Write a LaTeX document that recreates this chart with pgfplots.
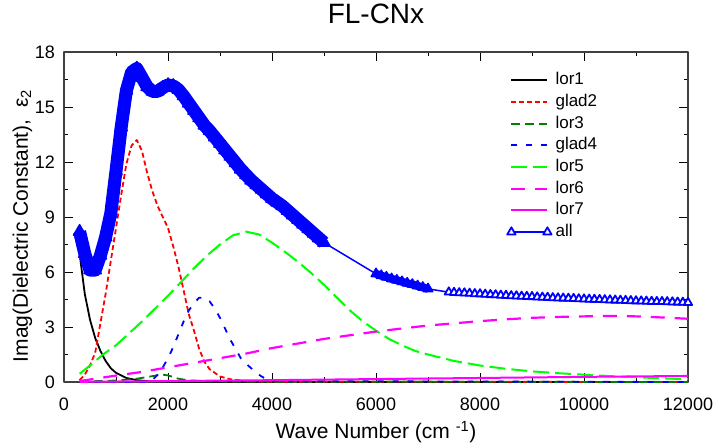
\documentclass[border=0pt]{standalone}
\usepackage{fontspec}
\setmainfont{Liberation Sans}
\usepackage{pgfplots}
\usepackage{pgfplotstable}
\pgfplotsset{compat=1.18}
\definecolor{darkgreen}{RGB}{0,128,0}
\definecolor{mag}{RGB}{255,0,255}
\definecolor{lgreen}{RGB}{0,255,0}
\definecolor{pblue}{RGB}{0,0,255}
\definecolor{pred}{RGB}{255,0,0}

% component curves
\pgfplotstableread{
x y
300 7.0
400 4.8
500 3.4
600 2.4
700 1.7
800 1.15
900 0.75
1000 0.5
1200 0.22
1400 0.1
1600 0.05
2000 0.02
3000 0.01
12000 0.0
}\lorone
\pgfplotstableread{
x y
300 0.1
400 0.4
500 0.9
600 1.6
700 3.2
800 4.8
900 6.6
1000 8.4
1100 10.2
1200 11.9
1300 12.9
1400 13.2
1500 12.6
1600 11.4
1700 10.4
1800 9.6
1900 9.0
2000 8.4
2100 7.4
2200 6.3
2300 5.0
2400 3.7
2500 2.8
2600 1.8
2700 1.1
2800 0.7
3000 0.3
3200 0.15
3500 0.05
4000 0.02
12000 0.0
}\gladtwo
\pgfplotstableread{
x y
300 0.02
1000 0.08
1400 0.18
1600 0.27
1800 0.37
1900 0.4
2000 0.36
2100 0.27
2200 0.18
2400 0.09
2800 0.04
4000 0.02
12000 0.0
}\lorthree
\pgfplotstableread{
x y
300 0.0
1600 0.0
1700 0.1
1800 0.4
1900 0.8
2000 1.3
2100 1.9
2200 2.6
2300 3.3
2400 3.9
2500 4.3
2600 4.6
2700 4.6
2800 4.4
2900 4.0
3000 3.5
3100 2.9
3200 2.3
3300 1.8
3400 1.3
3500 1.0
3600 0.75
3700 0.5
3800 0.3
3900 0.15
4000 0.05
12000 0.0
}\gladfour
\pgfplotstableread{
x y
300 0.45
500 0.9
750 1.5
1000 2.0
1250 2.65
1500 3.3
1750 4.0
2000 4.7
2250 5.45
2500 6.2
2750 6.9
3000 7.5
3250 8.0
3500 8.2
3750 8.05
4000 7.6
4250 7.1
4500 6.55
4750 5.95
5000 5.3
5250 4.6
5500 3.9
5750 3.3
6000 2.8
6250 2.35
6500 2.0
6750 1.7
7000 1.5
7500 1.15
8000 0.9
8500 0.72
9000 0.58
9500 0.48
10000 0.4
10500 0.32
11000 0.26
11500 0.2
12000 0.15
}\lorfive
\pgfplotstableread{
x y
300 0.05
1000 0.35
1500 0.55
2000 0.8
2500 1.05
3000 1.3
3500 1.55
4000 1.85
4500 2.1
5000 2.35
5500 2.55
6000 2.75
6500 2.92
7000 3.08
7500 3.2
8000 3.32
8500 3.42
9000 3.5
9500 3.55
10000 3.58
10500 3.6
11000 3.58
11500 3.52
12000 3.45
}\lorsix
\pgfplotstableread{
x y
300 0.01
2000 0.05
4000 0.1
6000 0.16
8000 0.22
10000 0.28
12000 0.33
}\lorseven

% total fit, dense and sparse stretches
\pgfplotstableread{
x y
300 8.2
400 7.0
500 6.1
600 6.1
700 6.9
800 7.9
900 9.2
1000 11.5
1100 13.9
1200 15.9
1300 16.9
1400 17.1
1500 16.6
1600 16.1
1700 15.85
1800 15.85
1900 16.05
2000 16.2
2100 16.15
2200 15.95
2300 15.6
2400 15.2
2500 14.8
2600 14.4
2700 14.0
2800 13.7
2900 13.35
3000 13.0
3100 12.65
3200 12.3
3300 11.95
3400 11.6
3500 11.3
3600 11.0
3700 10.75
3800 10.5
3900 10.25
4000 10.0
4100 9.8
4200 9.6
4300 9.35
4400 9.1
4500 8.85
4600 8.6
4700 8.35
4800 8.1
4900 7.85
5000 7.6
}\alla
\pgfplotstableread{
x y
6000 5.9
6100 5.8
6200 5.72
6300 5.63
6400 5.55
6500 5.47
6600 5.39
6700 5.32
6800 5.24
6900 5.16
7000 5.08
}\allb
\pgfplotstableread{
x y
7400 4.90
7500 4.88
7600 4.86
7700 4.85
7800 4.83
7900 4.81
8000 4.80
8100 4.78
8200 4.76
8300 4.75
8400 4.73
8500 4.72
8600 4.70
8700 4.69
8800 4.67
8900 4.66
9000 4.65
9100 4.63
9200 4.62
9300 4.61
9400 4.59
9500 4.58
9600 4.57
9700 4.56
9800 4.55
9900 4.53
10000 4.52
10100 4.51
10200 4.50
10300 4.49
10400 4.48
10500 4.47
10600 4.46
10700 4.45
10800 4.44
10900 4.43
11000 4.42
11100 4.41
11200 4.40
11300 4.39
11400 4.38
11500 4.38
11600 4.37
11700 4.36
11800 4.35
11900 4.34
12000 4.33
}\allc

\begin{document}
\begin{tikzpicture}
\begin{axis}[
  name=ax,
  scale only axis,
  width=624bp, height=330bp,
  xmin=0, xmax=12000, ymin=0, ymax=18,
  xtick={0,2000,...,12000}, ytick={0,3,...,18},
  minor x tick num=1, minor y tick num=1,
  scaled x ticks=false,
  /pgf/number format/1000 sep={},
  /pgf/number format/assume math mode=true,
  tick label style={font=\fontsize{18bp}{18bp}\selectfont},
  xticklabel style={anchor=base, yshift=-28bp},
  yticklabel style={anchor=east, inner xsep=0pt, xshift=-9bp},
  major tick length=9bp, minor tick length=4.5bp,
  tick style={black, line width=0.8bp},
  axis line style={black!75, line width=1.2bp},
  title={FL-CNx},
  title style={at={(axis description cs:0.5,1.0697)}, anchor=base,
    font=\fontsize{28bp}{28bp}\selectfont},
  xlabel={Wave Number (cm\ \textsuperscript{-1})},
  xlabel style={at={(axis description cs:0.5,-0.1727)}, anchor=base,
    font=\fontsize{21bp}{21bp}\selectfont},
  ylabel={Imag(Dielectric Constant),\ \ ε\textsubscript{2}},
  ylabel style={at={(axis description cs:-0.0577,0.4727)}, anchor=base,
    font=\fontsize{21bp}{21bp}\selectfont},
  legend image code/.code={\draw[mark repeat=2,mark phase=1]
    plot coordinates {(3bp,0bp) (21bp,0bp) (39bp,0bp)};},
  legend cell align=left,
  legend style={draw=none, fill=none, at={(axis description cs:0.71,0.9424)},
    anchor=north west, inner sep=0pt, row sep=3.7bp,
    font=\fontsize{17bp}{17bp}\selectfont,
    nodes={inner sep=1bp, text height=12.5bp, text depth=3.5bp},
    /tikz/every odd column/.append style={column sep=3bp}},
  line join=round,
]
\addplot[black, line width=1.8bp] table {\lorone};
\addlegendentry{lor1}
\addplot[pred, line width=1.8bp, dash pattern=on 5bp off 3bp] table {\gladtwo};
\addlegendentry{glad2}
\addplot[darkgreen, line width=1.8bp, dash pattern=on 9bp off 5bp] table {\lorthree};
\addlegendentry{lor3}
\addplot[pblue, line width=1.8bp, dash pattern=on 6bp off 9bp] table {\gladfour};
\addlegendentry{glad4}
\addplot[lgreen, line width=2bp, dash pattern=on 16bp off 6bp] table {\lorfive};
\addlegendentry{lor5}
\addplot[mag, line width=2.2bp, dash pattern=on 14bp off 10bp] table {\lorsix};
\addlegendentry{lor6}
\addplot[mag, line width=2bp] table {\lorseven};
\addlegendentry{lor7}
% thin joins across the gaps of the total curve
\addplot[pblue, line width=1.5bp, forget plot] coordinates {(5000,7.6) (6000,5.9)};
\addplot[pblue, line width=1.5bp, forget plot] coordinates {(7000,5.08) (7400,4.90)};
\addplot[pblue, line width=13bp, mark=triangle*, mark size=7bp,
  mark options={solid, fill=pblue, line width=1.5bp}, forget plot] table {\alla};
\addplot[pblue, line width=8bp, mark=triangle*, mark size=5.5bp,
  mark options={solid, fill=pblue, line width=1.5bp}, forget plot] table {\allb};
\addplot[pblue, line width=1.8bp, mark=triangle*, mark size=4.8bp,
  mark options={solid, fill=white, line width=1.8bp}] table {\allc};
\addlegendentry{all}
\end{axis}
\pgfresetboundingbox
\path[use as bounding box] ([shift={(-64bp,-64bp)}]ax.south west)
  rectangle ([shift={(31bp,52bp)}]ax.north east);
\end{tikzpicture}
\end{document}
